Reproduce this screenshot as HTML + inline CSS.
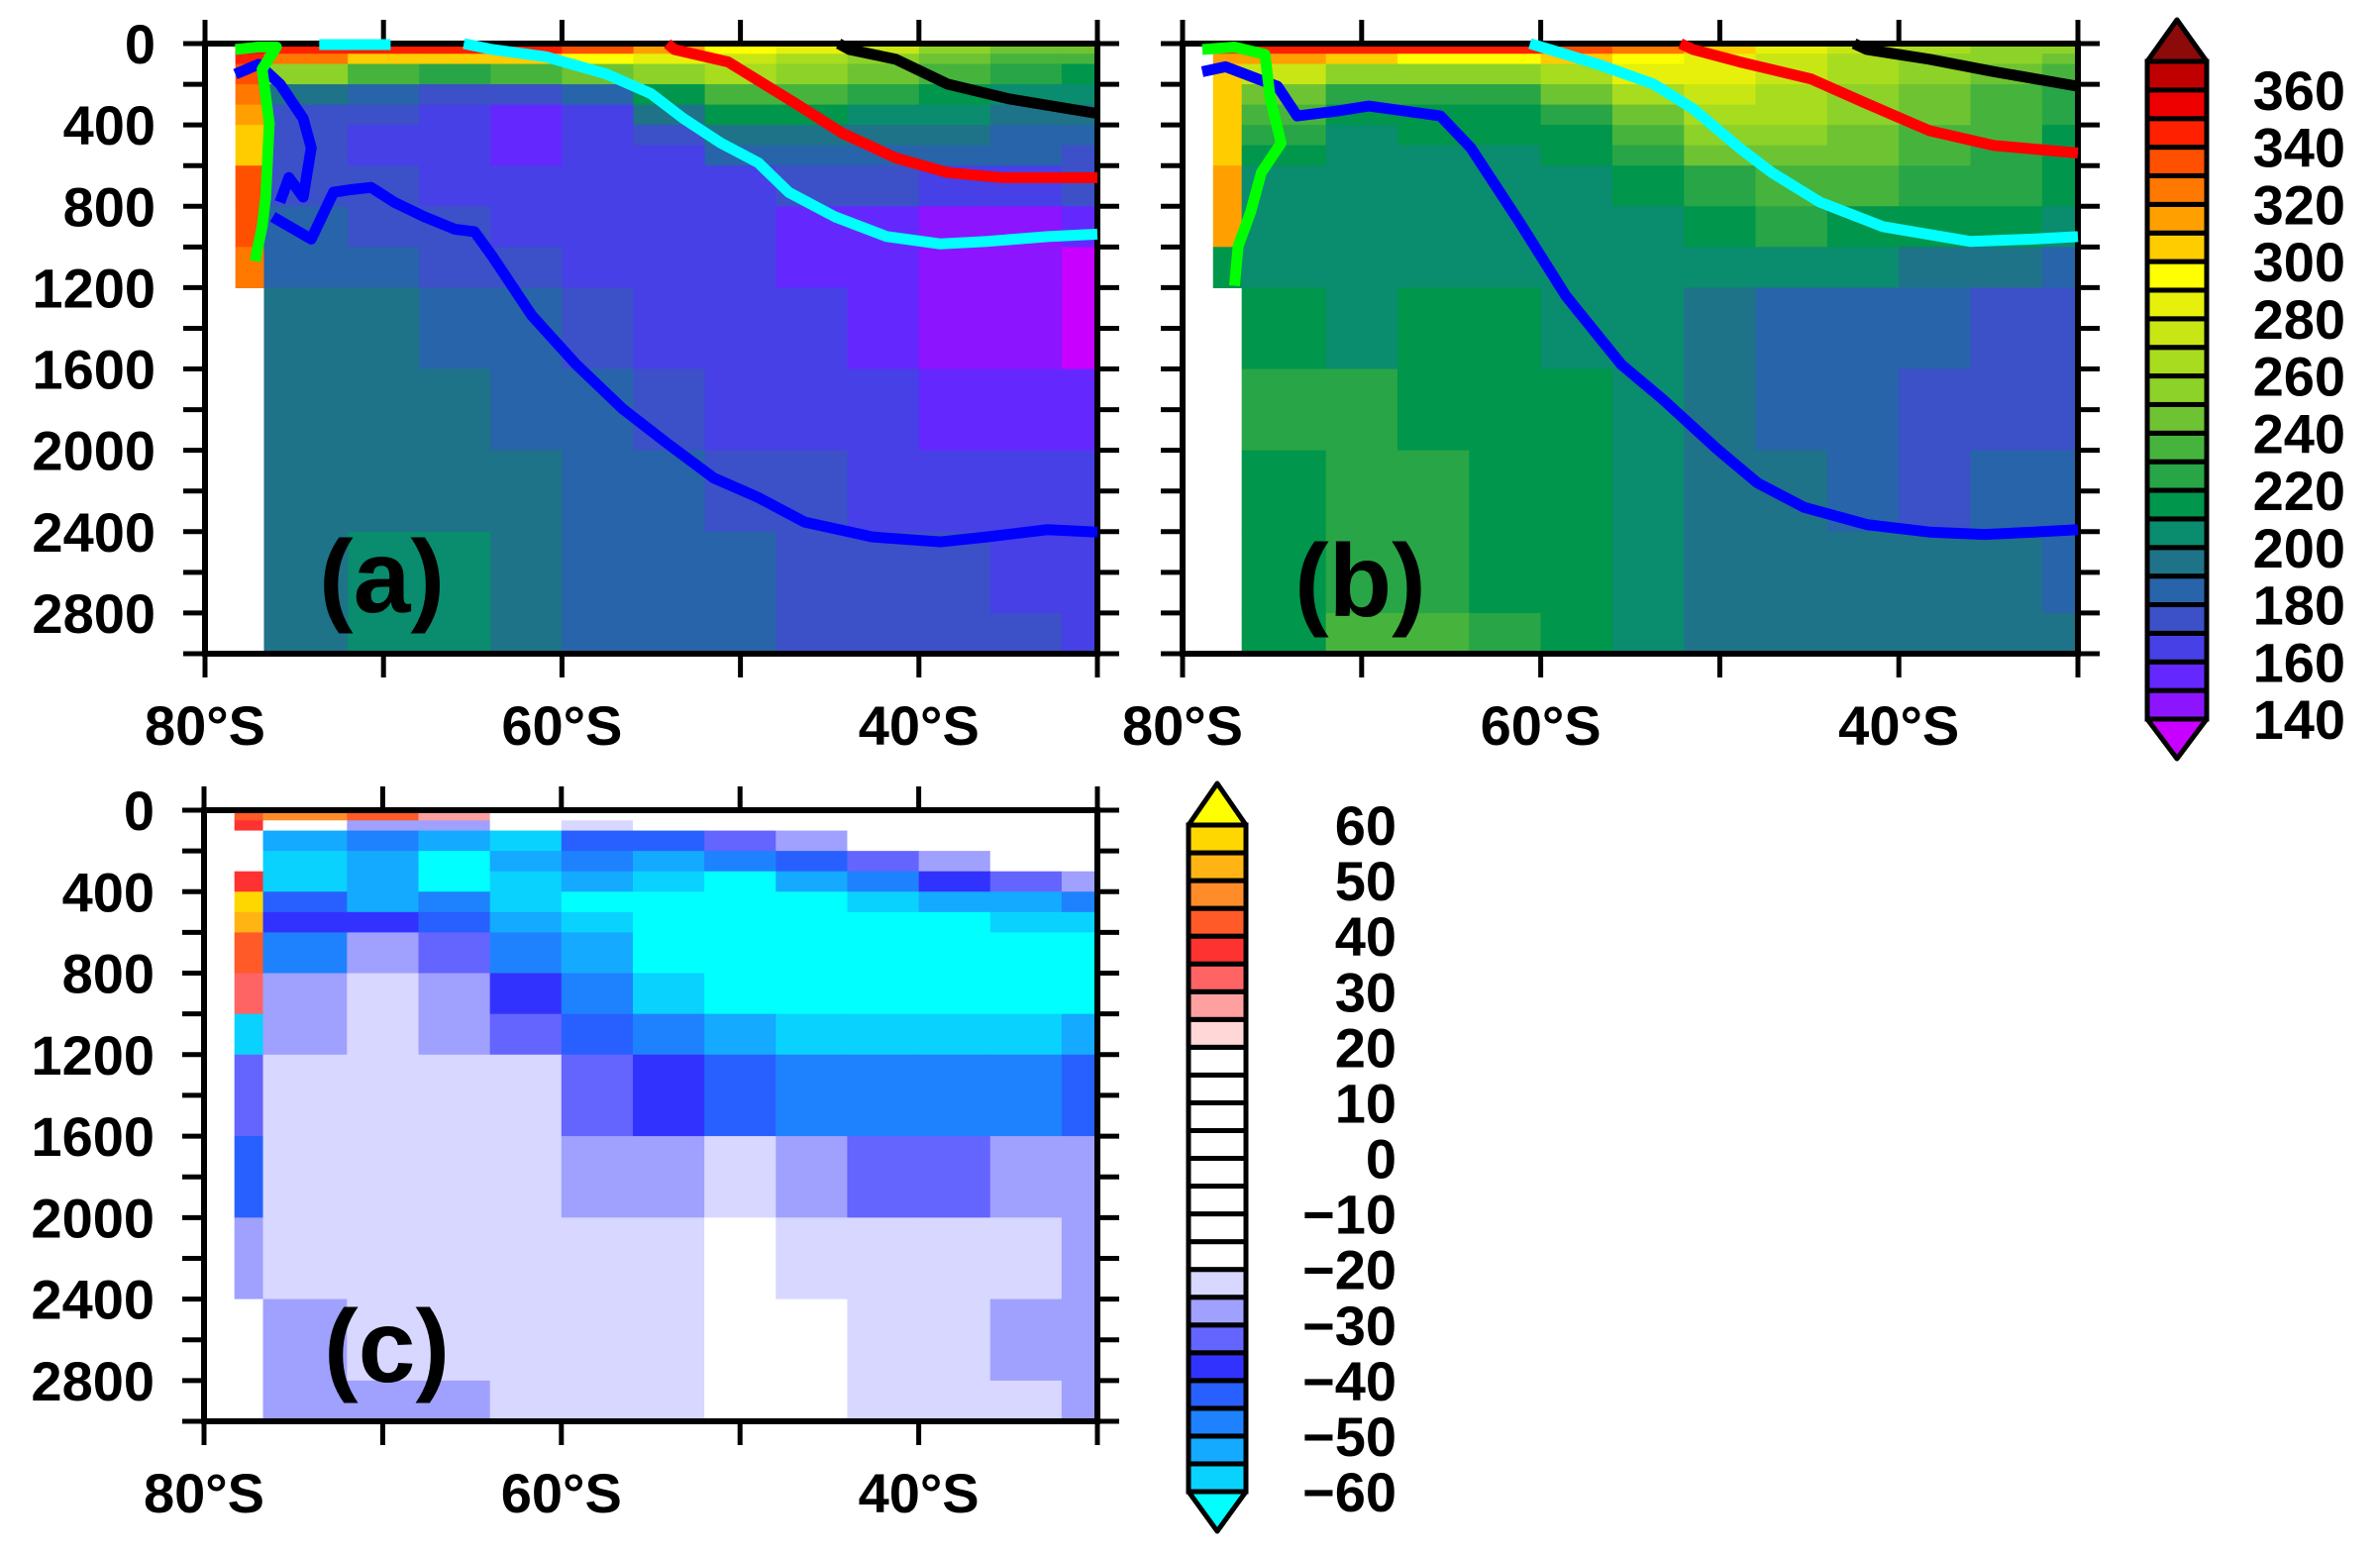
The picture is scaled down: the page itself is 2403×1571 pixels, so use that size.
<!DOCTYPE html>
<html><head><meta charset="utf-8"><style>
html,body{margin:0;padding:0;background:#fff;}
svg{display:block;}
text{font-family:"Liberation Sans",sans-serif;font-weight:bold;fill:#000;}
</style></head><body>
<svg id="fig" width="2403" height="1571" viewBox="0 0 2403 1571" xmlns="http://www.w3.org/2000/svg"></svg>
<script>
// ---------- DATA ----------
const latEdges = [78.3,76.7,72,68,64,60,56,52,48,44,40,36,32,30];
const depthEdges = [0,50,100,200,300,400,500,600,800,1000,1200,1600,2000,2400,2800,3000];
const panelAValues = [
 [350,345,345,345,345,330,310,295,285,270,255,245,240],
 [340,320,300,300,300,290,280,275,265,255,245,235,230],
 [330,250,230,220,230,240,255,260,250,240,230,220,215],
 [320,190,180,175,170,185,215,235,235,225,215,205,205],
 [310,175,170,165,155,165,195,215,215,205,200,198,195],
 [300,170,165,160,150,160,175,195,198,195,190,185,180],
 [300,170,165,160,155,160,165,180,185,185,180,180,175],
 [330,175,170,165,160,160,160,165,170,170,165,165,170],
 [330,180,175,170,165,160,160,160,155,150,145,145,150],
 [320,188,180,175,170,165,160,160,155,150,145,140,135],
 [null,192,192,188,185,175,165,160,160,155,148,142,135],
 [null,192,192,192,188,180,175,165,165,160,155,150,155],
 [null,195,195,192,192,188,180,175,170,165,160,160,160],
 [null,195,202,202,195,188,185,180,175,170,170,165,165],
 [null,195,202,202,195,188,185,180,175,170,170,170,165]
];
const panelBValues = [
 [340,340,340,340,340,330,320,300,285,275,265,255,250],
 [310,310,300,290,290,300,295,285,275,265,255,250,245],
 [300,270,255,250,255,265,280,280,270,260,250,240,230],
 [300,245,225,220,225,240,260,270,265,255,245,235,225],
 [300,230,215,215,215,225,245,260,260,250,240,230,220],
 [300,225,205,210,210,215,235,250,255,245,235,230,215],
 [305,215,205,205,205,210,225,240,245,240,235,225,215],
 [315,205,202,205,205,205,215,225,235,230,225,220,210],
 [315,205,202,202,205,205,205,210,220,215,210,210,202],
 [215,202,202,205,205,202,202,205,205,200,195,190,185],
 [null,210,205,210,210,205,200,195,185,180,180,175,175],
 [null,220,220,215,215,210,200,195,185,180,175,175,175],
 [null,215,225,225,215,210,200,195,190,180,175,180,180],
 [null,215,225,225,215,210,200,195,190,190,190,190,185],
 [null,215,230,230,220,215,205,195,190,190,190,190,190]
];
const panelCValues = [
 [40,45,40,25,0,0,0,0,0,0,0,0,0],
 [35,0,-25,-25,-10,-20,0,0,0,0,0,0,0],
 [0,-50,-45,-50,-55,-40,-40,-30,-25,-15,0,0,0],
 [0,-55,-50,-60,-50,-45,-50,-45,-40,-30,-25,0,0],
 [35,-55,-50,-60,-55,-50,-55,-60,-50,-45,-35,-30,-25],
 [55,-40,-50,-45,-55,-60,-60,-60,-60,-55,-50,-50,-45],
 [50,-35,-35,-40,-50,-55,-60,-62,-62,-62,-60,-55,-55],
 [40,-45,-25,-30,-45,-50,-60,-62,-65,-65,-65,-65,-65],
 [30,-25,-20,-25,-35,-45,-55,-60,-65,-65,-65,-62,-60],
 [-55,-25,-20,-25,-30,-40,-45,-50,-55,-55,-55,-55,-50],
 [-30,-20,-20,-20,-20,-30,-35,-40,-45,-45,-45,-45,-40],
 [-40,-20,-20,-20,-20,-25,-25,-20,-25,-30,-30,-25,-25],
 [-25,-20,-20,-20,-20,-20,-20,0,-20,-20,-20,-20,-25],
 [0,-25,-20,-20,-20,-20,-20,0,0,-20,-20,-25,-25],
 [0,-25,-25,-25,-20,-20,-20,0,0,-20,-20,-20,-25]
];
// contour lines: [lat, depth]
const aBlueLat = [76.2,74.05,72.8,71.9,70.7,69.4,67.7,66.0,64.9,63.9,61.7,59.2,56.6,54.1,51.5,49.0,46.4,42.6,38.8,36.2,32.8,30];
const aBlueDep = [852,961,731,719,707,780,852,913,925,1046,1336,1578,1796,1966,2136,2232,2353,2426,2450,2426,2390,2402];
const aBlue2Lat = [78.3,77.0,75.8,74.5,74.05,74.5,75.3,75.8];
const aBlue2Dep = [150,102,199,368,513,755,659,780];
const aGreenLat = [78.3,77.0,76.0,76.8,76.4,76.6,76.8,77.2];
const aGreenDep = [29,17,17,126,392,755,900,1070];
const aCyan1Lat = [73.6,69.6];
const aCyan1Dep = [5,5];
const aCyanLat = [65.5,63.9,60.9,57.5,55.0,53.2,51.1,49.0,47.3,44.7,41.8,38.8,36.2,32.8,30];
const aCyanDep = [0,29,65,150,247,368,489,586,731,852,949,985,973,949,937];
const aRedLat = [54.1,53.7,50.7,46.9,44.3,41.3,38.4,35.4,30];
const aRedDep = [0,29,90,295,440,562,634,659,659];
const aBlackLat = [44.5,43.9,41.3,38.4,35.0,30];
const aBlackDep = [0,29,77,199,271,344];
const bBlueLat = [78.9,77.6,75.8,74.7,73.6,71.4,69.6,65.6,63.9,61.2,58.6,55.5,53.2,50.2,47.9,45.3,41.8,38.3,35.2,32.5,30];
const bBlueDep = [138,114,174,210,356,332,307,356,513,876,1240,1578,1748,1990,2160,2280,2365,2402,2414,2402,2390];
const bGreenLat = [78.9,77.1,75.4,75.1,74.5,75.6,76.2,76.9,77.1];
const bGreenDep = [29,17,53,271,489,634,828,998,1191];
const bCyanLat = [60.6,59.5,56.8,53.7,51.5,48.9,47.1,44.4,40.9,36.0,32.5,30];
const bCyanDep = [0,29,102,199,320,513,634,780,900,973,961,949];
const bRedLat = [52.2,51.5,48.9,44.9,41.8,38.3,34.7,30];
const bRedDep = [0,29,90,174,295,428,501,538];
const bBlackLat = [42.5,41.8,38.3,34.7,30];
const bBlackDep = [0,29,77,138,210];
const yTickLabels = [0,400,800,1200,1600,2000,2400,2800];
const xTickLabels = [80,60,40];
const cbABLabels = [360,340,320,300,280,260,240,220,200,180,160,140];
const cbCLabels = [60,50,40,30,20,10,0,-10,-20,-30,-40,-50,-60];

// ---------- COLOUR SCALES ----------
const abColors = ['#8c14ff','#6428ff','#4640e6','#3c50c8','#2864aa','#1e7388','#0a8c6e','#00964b','#28a546','#46b43c','#6ec332','#8cd228','#a8dc1e','#c8e614','#e6f00a','#ffff00','#ffcc00','#ffa000','#ff7800','#ff5000','#ff2000','#ee0000','#c00000'];
const cColors = ['#0ad2ff','#14aaff','#1e82ff','#2860ff','#3232ff','#6464ff','#a0a0ff','#d7d7ff','#ffffff','#ffffff','#ffffff','#ffffff','#ffffff','#ffffff','#ffffff','#ffffff','#ffd7d7','#ffa0a0','#ff6464','#ff3232','#ff5a28','#ff8c28','#ffb414','#ffd700'];
function abColor(v){ if(v<140) return '#c800ff'; if(v>=370) return '#8c0a0a'; return abColors[Math.floor((v-140)/10)]; }
function cColor(v){ const w = v<0 ? v-0.01 : v; if(w<-60) return '#00ffff'; if(w>=60) return '#ffff00'; return cColors[Math.floor((w+60)/5)]; }

const NS='http://www.w3.org/2000/svg';
const svg=document.getElementById('fig');
function mk(tag,attrs,parent){const e=document.createElementNS(NS,tag);for(const k in attrs)e.setAttribute(k,attrs[k]);(parent||svg).appendChild(e);return e;}

function drawPanel(P,values,colorFn,lines,label,showY,name){
  const g=mk('g',{});
  
  
  const xs=lat=>P.L+(80-lat)/50*(P.R-P.L);
  const ys=d=>P.T+d/3000*(P.B-P.T);
  const hm=mk('g',{},g);
  
  
  for(let r=0;r<values.length;r++){
    for(let c=0;c<values[r].length;c++){
      const v=values[r][c]; if(v===null) continue;
      const x0=xs(latEdges[c]),x1=xs(latEdges[c+1]),y0=ys(depthEdges[r]),y1=ys(depthEdges[r+1]);
      const rc=mk('rect',{x:x0,y:y0,width:x1-x0+0.6,height:y1-y0+0.6,fill:colorFn(v)},hm);
      
      
    }
  }
  for(let d=0;d<=3000;d+=200){
    const y=ys(d);
    mk('line',{x1:P.L-22,x2:P.L,y1:y,y2:y,stroke:'#000','stroke-width':5},g);
    mk('line',{x1:P.R,x2:P.R+22,y1:y,y2:y,stroke:'#000','stroke-width':5},g);
  }
  for(let lat=80;lat>=30;lat-=10){
    const x=xs(lat);
    mk('line',{x1:x,x2:x,y1:P.T-24,y2:P.T,stroke:'#000','stroke-width':5},g);
    mk('line',{x1:x,x2:x,y1:P.B,y2:P.B+24,stroke:'#000','stroke-width':5},g);
  }
  const fr=mk('rect',{x:P.L,y:P.T,width:P.R-P.L,height:P.B-P.T,fill:'none',stroke:'#000','stroke-width':6},g);
  
  
  if(showY){
    yTickLabels.forEach(d=>{
      const t=mk('text',{x:P.L-50,y:ys(d)+20,'text-anchor':'end','font-size':56},g);
      t.textContent=d;
      
      
    });
  }
  xTickLabels.forEach(l=>{
    const t=mk('text',{x:xs(l),y:P.B+92,'text-anchor':'middle','font-size':56},g);
    t.textContent=l+'°S';
    
    
  });
  lines.forEach(ln=>{
    const pts=ln.lat.map((la,i)=>xs(la)+','+ys(ln.dep[i])).join(' ');
    const pl=mk('polyline',{points:pts,fill:'none',stroke:ln.color,'stroke-width':11,'stroke-linejoin':'round'},g);
    
    
  });
  const lt=mk('text',{x:P.labelX,y:P.labelY,'font-size':104},g);
  lt.textContent=label;
  
  
}

drawPanel({L:207,R:1108,T:44,B:660,labelX:322,labelY:618},panelAValues,abColor,[
  {lat:aBlue2Lat,dep:aBlue2Dep,color:'#0000ff',name:'contour-blue-shelf'},
  {lat:aBlueLat,dep:aBlueDep,color:'#0000ff',name:'contour-blue'},
  {lat:aGreenLat,dep:aGreenDep,color:'#00ff00',name:'contour-green'},
  {lat:aCyan1Lat,dep:aCyan1Dep,color:'#00ffff',name:'contour-cyan-short'},
  {lat:aCyanLat,dep:aCyanDep,color:'#00ffff',name:'contour-cyan'},
  {lat:aRedLat,dep:aRedDep,color:'#ff0000',name:'contour-red'},
  {lat:aBlackLat,dep:aBlackDep,color:'#000000',name:'contour-black'}
],'(a)',true,'panel-a');

drawPanel({L:1194,R:2098,T:44,B:660,labelX:1307,labelY:622},panelBValues,abColor,[
  {lat:bBlueLat,dep:bBlueDep,color:'#0000ff',name:'contour-blue'},
  {lat:bGreenLat,dep:bGreenDep,color:'#00ff00',name:'contour-green'},
  {lat:bCyanLat,dep:bCyanDep,color:'#00ffff',name:'contour-cyan'},
  {lat:bRedLat,dep:bRedDep,color:'#ff0000',name:'contour-red'},
  {lat:bBlackLat,dep:bBlackDep,color:'#000000',name:'contour-black'}
],'(b)',false,'panel-b');

drawPanel({L:206,R:1108,T:818,B:1435,labelX:327,labelY:1395},panelCValues,cColor,[],'(c)',true,'panel-c');

// ---------- COLOURBARS ----------
function colorbar(x,w,top,bot,colors,under,over,labels,v0,step,labelX,name){
  const g=mk('g',{});
  
  
  const n=colors.length,h=(bot-top)/n;
  colors.forEach((c,i)=>{
    const r=mk('rect',{x:x,y:bot-(i+1)*h,width:w,height:h,fill:c,stroke:'#000','stroke-width':5},g);
    
    
  });
  const tu=mk('polygon',{points:`${x},${top} ${x+w},${top} ${x+w/2},${top-42}`,fill:over,stroke:'#000','stroke-width':5,'stroke-linejoin':'round'},g);
  
  
  const td=mk('polygon',{points:`${x},${bot} ${x+w},${bot} ${x+w/2},${bot+40}`,fill:under,stroke:'#000','stroke-width':5,'stroke-linejoin':'round'},g);
  
  
  labels.forEach(v=>{
    const y=bot-(v-v0)/step*h;
    const t=mk('text',{x:labelX,y:y+20,'text-anchor':'end','font-size':56},g);
    t.textContent=(v<0?'\u2212'+(-v):v);
    
    
  });
}
colorbar(2168,60,62,726,abColors,'#c800ff','#8c0a0a',cbABLabels,140,10,2368,'colorbar-ab');
colorbar(1200,58,833,1506,cColors,'#00ffff','#ffff00',cbCLabels,-60,5,1410,'colorbar-c');
</script>
</body></html>
